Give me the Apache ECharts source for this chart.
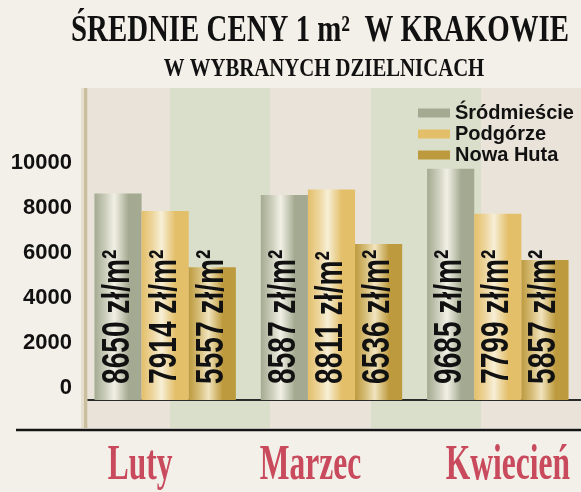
<!DOCTYPE html>
<html>
<head>
<meta charset="utf-8">
<script src="https://cdn.jsdelivr.net/npm/echarts@6/dist/echarts.min.js"></script>
<style>
  html, body { margin: 0; padding: 0; background: #f3f0e9; }
  #chart { width: 581px; height: 492px; }
</style>
</head>
<body>
<div id="chart"></div>
<script>
// dane
const categories = ['Luty', 'Marzec', 'Kwiecień'];
const districts = ['Śródmieście', 'Podgórze', 'Nowa Huta'];
const srodmiescie = [8650, 8587, 9685];
const podgorze = [7914, 8811, 7799];
const nowaHuta = [5557, 6536, 5857];
const yTicks = [0, 2000, 4000, 6000, 8000, 10000];

const seriesValues = [srodmiescie, podgorze, nowaHuta];
const flatColors = ['#a4aa91', '#e4bf6a', '#bd9a3e'];
const lightColors = ['#f2f0e6', '#f7efd6', '#f1e4bf'];
const midColors = ['#c9ccb9', '#ecd49a', '#d6bd78'];
const catGap = 0.15;

function cylinder(i) {
  return new echarts.graphic.LinearGradient(0, 0, 1, 0, [
    { offset: 0, color: flatColors[i] },
    { offset: 0.22, color: midColors[i] },
    { offset: 0.42, color: lightColors[i] },
    { offset: 0.58, color: midColors[i] },
    { offset: 0.72, color: flatColors[i] },
    { offset: 1, color: flatColors[i] }
  ]);
}

// pasy tła
const bands = [[88, 170, '#e9e3d9'], [170, 270, '#dadfcb'], [270, 371, '#e9e3d9'], [371, 481, '#dadfcb'], [481, 581, '#e9e3d9']];

let baseGraphic = bands.map((b, i) => ({
  type: 'rect', id: 'band' + i, z: -5,
  shape: { x: b[0], y: 88, width: b[1] - b[0], height: 340 },
  style: { fill: b[2] }
}));
baseGraphic.push(
  { type: 'rect', id: 'border0', z: 5, shape: { x: 81, y: 88, width: 3, height: 340 }, style: { fill: '#e6dfd0' } },
  { type: 'rect', id: 'border', z: 5, shape: { x: 84, y: 88, width: 3.5, height: 340 }, style: { fill: '#cbbe9f' } },
  { type: 'line', id: 'baseLine', z: 5, shape: { x1: 16, y1: 430, x2: 581, y2: 430 }, style: { stroke: '#151515', lineWidth: 2.5 } },
  {
    type: 'text', id: 'title', x: 320, y: 31, scaleX: 0.76, z: 5,
    style: {
      text: 'ŚREDNIE CENY 1 m²  W KRAKOWIE', align: 'center', verticalAlign: 'middle',
      font: 'bold 38px "Liberation Serif", serif', fill: '#111'
    }
  },
  {
    type: 'text', id: 'subtitle', x: 324, y: 70, scaleX: 0.83, z: 5,
    style: {
      text: 'W WYBRANYCH DZIELNICACH', align: 'center', verticalAlign: 'middle',
      font: 'bold 25px "Liberation Serif", serif', fill: '#111'
    }
  }
);

// pionowe napisy w słupkach (zwężona czcionka)
function labelSeries(i) {
  return {
    name: 'label' + i, type: 'custom', yAxisIndex: 0, z: 4,
    data: seriesValues[i].map((v, j) => [j, v]),
    encode: { x: 0, y: 1 },
    renderItem: function (params, api) {
      const base = api.coord([api.value(0), 0]);
      const barW = api.size([1, 0])[0] * (1 - catGap) / 3;
      return {
        type: 'text',
        x: base[0] + (i - 1) * barW, y: base[1] - 16,
        rotation: Math.PI / 2, scaleX: 0.74,
        style: {
          text: api.value(1) + ' zł/m²', align: 'left', verticalAlign: 'middle',
          font: 'bold 38px "Liberation Sans", Arial, sans-serif', fill: '#111'
        }
      };
    }
  };
}

const chart = echarts.init(document.getElementById('chart'));

const option = {
  backgroundColor: '#f3f0e9',
  animation: false,
  grid: { left: 82, right: -3, top: 113.4, bottom: 92 },
  legend: {
    orient: 'vertical', left: 413, top: 98,
    itemWidth: 32, itemHeight: 9, itemGap: 1, icon: 'rect',
    textStyle: { fontFamily: '"Liberation Sans", Arial, sans-serif', fontWeight: 'bold', fontSize: 20, color: '#111' },
    data: districts.map((d, i) => ({ name: d, itemStyle: { color: flatColors[i] } }))
  },
  xAxis: {
    type: 'category', data: categories,
    axisLine: { show: true, lineStyle: { color: '#2a2a2a', width: 2 } },
    axisTick: { show: false }, axisLabel: { show: false }
  },
  yAxis: [
    { type: 'value', min: 0, max: 12000, show: false, splitLine: { show: false } },
    {
      type: 'value', min: -556, max: 12182, position: 'left',
      axisLine: { show: false }, axisTick: { show: false }, splitLine: { show: false },
      axisLabel: {
        customValues: yTicks, margin: 10, formatter: v => String(v),
        fontFamily: '"Liberation Sans", Arial, sans-serif', fontWeight: 'bold', fontSize: 22, color: '#111'
      }
    }
  ],
  series: districts.map((d, i) => ({
    name: d, type: 'bar', yAxisIndex: 0,
    data: seriesValues[i],
    barGap: '0%', barCategoryGap: (catGap * 100) + '%',
    itemStyle: { color: cylinder(i) }
  })).concat(districts.map((d, i) => labelSeries(i))),
  graphic: { elements: baseGraphic }
};
chart.setOption(option);

// etykiety miesięcy - wąski szeryf, pozycja z osi X (przesunięte jak w oryginale)
const catShift = [-25, -21, 10];
const catGraphic = categories.map((c, i) => ({
  type: 'text', id: 'cat' + i, z: 5,
  x: chart.convertToPixel({ xAxisIndex: 0 }, c) + catShift[i], y: 466, scaleX: 0.63,
  style: {
    text: c, align: 'center', verticalAlign: 'middle',
    font: 'bold 50px "Liberation Serif", serif', fill: '#c84a5c'
  }
}));
chart.setOption({ graphic: { elements: baseGraphic.concat(catGraphic) } });
</script>
</body>
</html>
